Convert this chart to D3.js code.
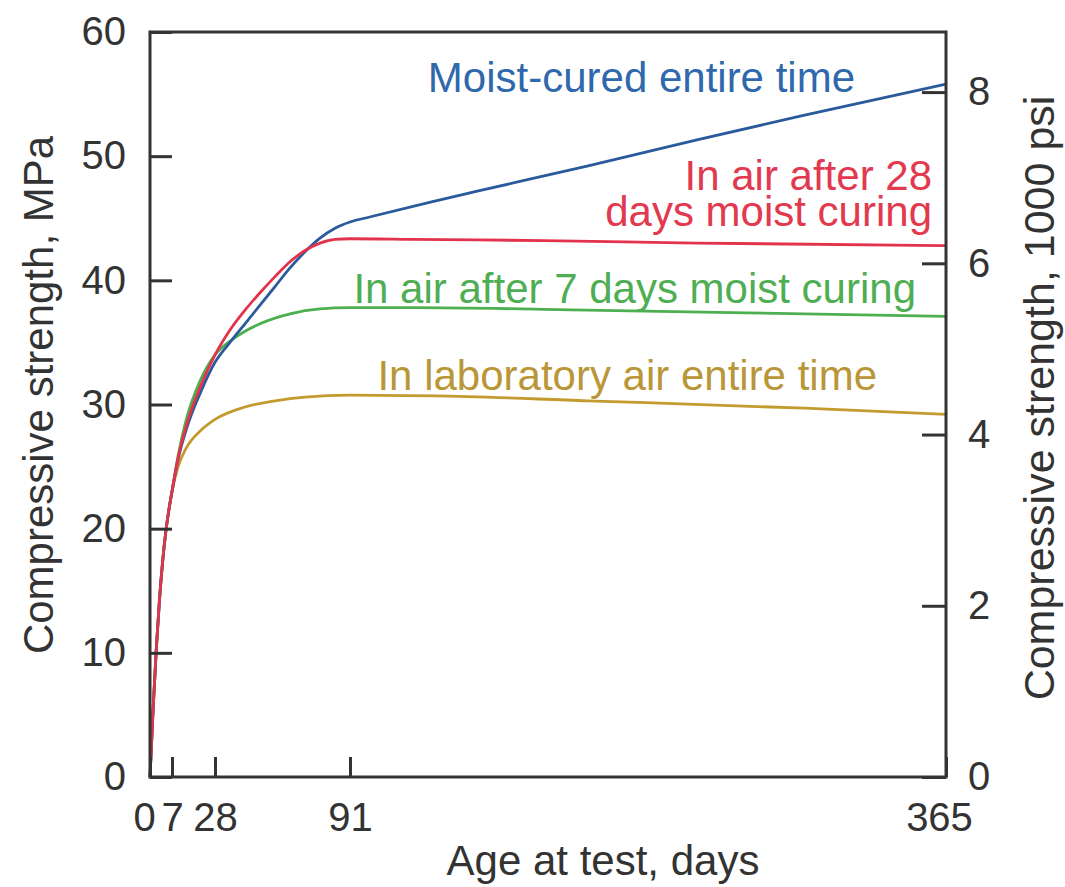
<!DOCTYPE html>
<html>
<head>
<meta charset="utf-8">
<script src="https://cdn.jsdelivr.net/npm/d3@7"></script>
<style>
  body{margin:0;background:#fff;}
  svg{display:block;font-family:"Liberation Sans",Arial,Helvetica,sans-serif;}
  .axis text{font-size:40px;fill:#333;}
  .axis line{stroke:#333;stroke-width:3;}
  .title{font-size:42px;fill:#333;}
  .lbl{font-size:42px;}
</style>
</head>
<body>
<svg id="chart" width="1065" height="887"></svg>
<script>
// age at test, days / compressive strength, MPa
const dayTicks=[0,7,28,91,365];
const mpaTicks=[0,10,20,30,40,50,60];
const psiTicks=[0,2,4,6,8];
const MPA_PER_KSI=6.895;

const moistDays=[0,1,2,3,4,5,6,7,10,14,21,28,35,42,49,56,63,70,77,84,91,100,128,150,200,250,300,365];
const moistMpa=[0,5.5,10.3,14.2,17.3,19.7,21.5,23,25.6,28,31,33.4,35,36.5,38,39.5,41,42.3,43.4,44.2,44.7,45.1,46.3,47.2,49.2,51.3,53.3,55.8];

const air28Days=[0,1,2,3,4,5,6,7,10,14,21,28,35,42,49,56,63,70,77,84,91,120,180,250,365];
const air28Mpa=[0,5.5,10.3,14.2,17.3,19.7,21.5,23,25.7,28.3,31.5,34,36,37.6,39,40.3,41.5,42.4,43,43.3,43.35,43.3,43.2,43,42.8];

const air7Days=[0,1,2,3,4,5,6,7,10,14,21,28,35,42,49,63,77,91,120,200,300,365];
const air7Mpa=[0,5.5,10.3,14.2,17.3,19.7,21.5,23,25.9,28.8,32,34,35.1,35.9,36.5,37.3,37.7,37.8,37.8,37.6,37.3,37.1];

const labDays=[0,1,2,3,4,5,6,7,10,14,21,28,42,56,70,91,130,200,300,365];
const labMpa=[0,5.5,10.3,14.2,17.3,19.7,21.5,23,25,26.5,27.9,28.8,29.8,30.3,30.6,30.75,30.7,30.3,29.7,29.2];

const series=[
  {name:"In laboratory air entire time",days:labDays,mpa:labMpa,color:"#c39a2e",text:"#b99637"},
  {name:"In air after 7 days moist curing",days:air7Days,mpa:air7Mpa,color:"#4caf50",text:"#4fae53"},
  {name:"Moist-cured entire time",days:moistDays,mpa:moistMpa,color:"#2a5a9c",text:"#2f68ad"},
  {name:"In air after 28 days moist curing",days:air28Days,mpa:air28Mpa,color:"#e3334c",text:"#e2394f"}
];

const L=150,R=946,T=32,B=777;
const svg=d3.select("#chart");

// the x axis of the figure is not quite even, so the scale is pinned at the ticks
const x=d3.scaleLinear().domain(dayTicks).range([150,172,215,350,946]);
const y=d3.scaleLinear().domain([0,60]).range([B,T]);
const y2=d3.scaleLinear().domain([0,60/MPA_PER_KSI]).range([B,T]);

const line=d3.line()
  .x((d)=>x(d[0]))
  .y((d)=>y(d[1]))
  .curve(d3.curveMonotoneX);

series.forEach((s)=>{
  svg.append("path")
    .datum(s.days.map((d,i)=>[d,s.mpa[i]]))
    .attr("fill","none")
    .attr("stroke",s.color)
    .attr("stroke-width",2.8)
    .attr("d",line);
});

// axes
const xAxis=svg.append("g").attr("class","axis")
  .attr("transform",`translate(0,${B})`)
  .call(d3.axisBottom(x).tickValues(dayTicks).tickSizeInner(-20).tickSizeOuter(0).tickPadding(26));
xAxis.selectAll("text").attr("dx",(d)=>d===0?-6:(d===365?-7:0));

svg.append("g").attr("class","axis")
  .attr("transform",`translate(${L},0)`)
  .call(d3.axisLeft(y).tickValues(mpaTicks).tickSizeInner(-22).tickSizeOuter(0).tickPadding(24));

svg.append("g").attr("class","axis")
  .attr("transform",`translate(${R},0)`)
  .call(d3.axisRight(y2).tickValues(psiTicks).tickSizeInner(-24).tickSizeOuter(0).tickPadding(22));

svg.selectAll(".axis .domain").remove();

svg.append("rect")
  .attr("x",L).attr("y",T)
  .attr("width",R-L).attr("height",B-T)
  .attr("fill","none")
  .attr("stroke","#333")
  .attr("stroke-width",3);

// titles
svg.append("text").attr("class","title")
  .attr("x",603).attr("y",875)
  .attr("text-anchor","middle")
  .text("Age at test, days");
svg.append("text").attr("class","title")
  .attr("transform","translate(53,395) rotate(-90)")
  .attr("text-anchor","middle")
  .text("Compressive strength, MPa");
svg.append("text").attr("class","title")
  .attr("transform","translate(1054,398) rotate(-90)")
  .attr("text-anchor","middle")
  .style("font-size","43px")
  .text("Compressive strength, 1000 psi");

// curve labels
const lbl=(s,lines,xEnd,yBase)=>{
  const t=svg.append("text").attr("class","lbl")
    .attr("fill",s.text)
    .attr("text-anchor","end");
  lines.forEach((ln,i)=>{
    t.append("tspan").attr("x",xEnd).attr("y",yBase+i*36).text(ln);
  });
};
lbl(series[2],["Moist-cured entire time"],855,92);
lbl(series[3],["In air after 28","days moist curing"],932,190);
lbl(series[1],["In air after 7 days moist curing"],916,303);
lbl(series[0],["In laboratory air entire time"],877,390);
</script>
</body>
</html>
